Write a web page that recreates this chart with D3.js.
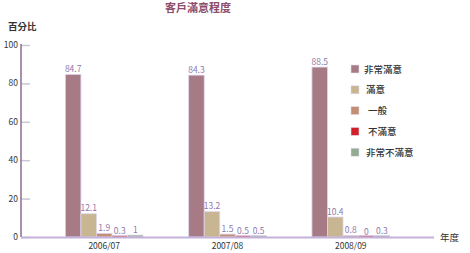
<!DOCTYPE html>
<html>
<head>
<meta charset="utf-8">
<script src="https://cdn.jsdelivr.net/npm/d3@7"></script>
<style>
  body { margin: 0; background: #fff; }
  text { font-family: "Noto Sans CJK TC", "Liberation Sans", sans-serif; }
</style>
</head>
<body>
<div id="chart"></div>
<script>
const years = ["2006/07", "2007/08", "2008/09"];
const seriesNames = ["非常滿意", "滿意", "一般", "不滿意", "非常不滿意"];
const seriesColors = ["#a67b85", "#c8b592", "#c48e73", "#d2202b", "#95aa93"];
const veryHappy = [84.7, 84.3, 88.5];
const happy = [12.1, 13.2, 10.4];
const average = [1.9, 1.5, 0.8];
const unhappy = [0.3, 0.5, 0];
const veryUnhappy = [1, 0.5, 0.3];
const yTicks = [0, 20, 40, 60, 80, 100];

const series = [veryHappy, happy, average, unhappy, veryUnhappy];

const width = 470;
const height = 253;
const margin = { top: 45, bottom: 16, left: 21, right: 36 };

const svg = d3.select('#chart')
  .append('svg')
  .attr('width', width)
  .attr('height', height);

const x = d3.scaleBand()
  .domain(years)
  .range([margin.left, width - margin.right])
  .paddingInner(0.37)
  .paddingOuter(0.36);

const xs = d3.scaleBand()
  .domain(d3.range(seriesNames.length))
  .range([0, x.bandwidth()]);

const y = d3.scaleLinear()
  .domain([0, 100])
  .range([height - margin.bottom, margin.top]);

// title
svg.append('text')
  .attr('x', 198).attr('y', 12)
  .attr('text-anchor', 'middle')
  .attr('font-size', '11px')
  .attr('font-weight', 'bold')
  .attr('fill', '#8c4d6b')
  .text('客戶滿意程度');

svg.append('text')
  .attr('x', 8).attr('y', 30)
  .attr('font-size', '9.5px')
  .attr('font-weight', 'bold')
  .attr('fill', '#333')
  .text('百分比');

// y axis
const yAxis = svg.append('g')
  .attr('transform', `translate(${margin.left},0)`)
  .call(d3.axisRight(y).tickValues(yTicks).tickSize(9).tickFormat(''));
yAxis.select('.domain').remove();
yAxis.selectAll('.tick line').attr('stroke', '#c9c7d6').attr('stroke-width', 1.5);

svg.selectAll('.ylab')
  .data(yTicks)
  .join('text')
  .attr('class', 'ylab')
  .attr('x', margin.left - 3)
  .attr('y', d => y(d) + 3)
  .attr('text-anchor', 'end')
  .attr('font-size', '8.5px')
  .attr('font-family', 'Liberation Sans, sans-serif')
  .attr('fill', '#333')
  .text(d => d);

svg.append('line')
  .attr('x1', margin.left).attr('x2', margin.left)
  .attr('y1', y(100) - 1).attr('y2', y(0))
  .attr('stroke', '#8d6c92').attr('stroke-width', 1.5);

// bars
const groups = svg.append('g')
  .selectAll('g')
  .data(years)
  .join('g')
  .attr('transform', d => `translate(${x(d)},0)`);

groups.selectAll('rect')
  .data((d, i) => series.map((s, k) => ({ k: k, v: s[i] })))
  .join('rect')
  .attr('x', d => xs(d.k))
  .attr('y', d => Math.min(y(d.v), y(0) - 1.5))
  .attr('width', xs.bandwidth())
  .attr('height', d => Math.max(y(0) - y(d.v), 1.5))
  .attr('fill', d => seriesColors[d.k])
  .attr('stroke', '#dcd4ec')
  .attr('stroke-width', 0.8);

groups.selectAll('text')
  .data((d, i) => series.map((s, k) => ({ k: k, v: s[i] })))
  .join('text')
  .attr('x', d => xs(d.k) + xs.bandwidth() / 2)
  .attr('y', d => y(d.v) - 2.5)
  .attr('text-anchor', 'middle')
  .attr('font-size', '8.5px')
  .attr('font-family', 'Liberation Sans, sans-serif')
  .attr('fill', '#8e79aa')
  .text(d => d.v);

// x axis
svg.append('line')
  .attr('x1', margin.left).attr('x2', width - margin.right)
  .attr('y1', y(0) + 0.5).attr('y2', y(0) + 0.5)
  .attr('stroke', '#c3b2da').attr('stroke-width', 2);

svg.selectAll('.xlab')
  .data(years)
  .join('text')
  .attr('class', 'xlab')
  .attr('x', d => x(d) + x.bandwidth() / 2)
  .attr('y', y(0) + 12)
  .attr('text-anchor', 'middle')
  .attr('font-size', '8.5px')
  .attr('font-family', 'Liberation Sans, sans-serif')
  .attr('fill', '#333')
  .text(d => d);

svg.append('text')
  .attr('x', 440).attr('y', y(0) + 4)
  .attr('font-size', '9.5px')
  .attr('fill', '#333')
  .text('年度');

// legend
const legend = svg.append('g')
  .selectAll('g')
  .data(seriesNames)
  .join('g')
  .attr('transform', (d, i) => `translate(351,${69 + i * 20.8})`);

legend.append('rect')
  .attr('x', 0).attr('y', -4)
  .attr('width', 8).attr('height', 8)
  .attr('fill', (d, i) => seriesColors[i])
  .attr('stroke', '#e2dcef')
  .attr('stroke-width', 0.6);

legend.append('text')
  .attr('x', (d, i) => [13, 15, 17, 17, 15][i])
  .attr('y', 3.5)
  .attr('font-size', '9.5px')
  .attr('font-weight', 500)
  .attr('fill', '#333')
  .text(d => d);
</script>
</body>
</html>
